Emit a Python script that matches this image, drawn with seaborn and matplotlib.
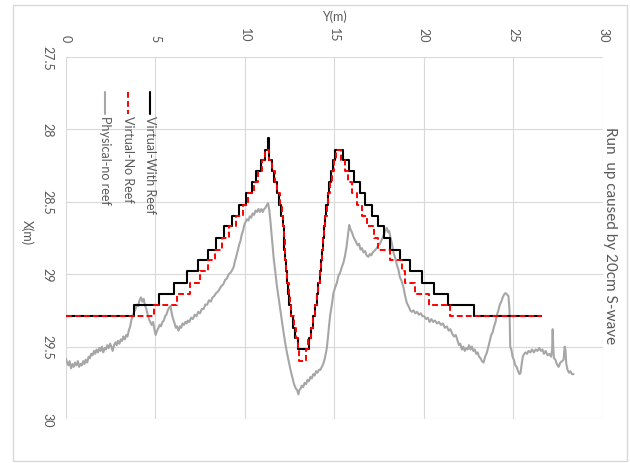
import matplotlib
matplotlib.use("Agg")
import matplotlib.pyplot as plt
from matplotlib.lines import Line2D
from matplotlib.patches import Rectangle
import seaborn as sns

# Virtual - with reef (step start along Y, X level)
vw_y = [0, 3.83, 5.23, 6.07, 6.76, 7.41, 7.95, 8.40, 8.85, 9.30, 9.70, 10.05, 10.40, 10.65,
        10.90, 11.10, 11.27, 11.33, 11.50, 11.65, 11.80, 11.93, 12.03, 12.12, 12.17, 12.21,
        12.25, 12.29, 12.34, 12.41, 12.49, 12.57, 12.67, 12.80, 12.98, 13.58, 13.70, 13.82,
        13.93, 14.02, 14.10, 14.18, 14.25, 14.31, 14.37, 14.43, 14.49, 14.55, 14.63, 14.72,
        14.82, 14.93, 15.05, 15.50, 15.80, 16.10, 16.44, 16.72, 17.10, 17.46, 17.78, 18.12,
        18.68, 19.23, 19.88, 20.54, 21.37, 22.77, 26.55]
vw_x = [29.29, 29.21, 29.14, 29.06, 28.98, 28.905, 28.83, 28.75, 28.67, 28.60, 28.52, 28.44, 28.36, 28.29,
        28.21, 28.14, 28.06, 28.21, 28.29, 28.36, 28.44, 28.52, 28.60, 28.67, 28.75, 28.83,
        28.905, 28.98, 29.06, 29.14, 29.21, 29.29, 29.37, 29.44, 29.52, 29.44, 29.37, 29.29,
        29.21, 29.14, 29.06, 28.98, 28.905, 28.83, 28.75, 28.67, 28.60, 28.52, 28.44, 28.36,
        28.29, 28.21, 28.14, 28.21, 28.29, 28.36, 28.44, 28.52, 28.60, 28.67, 28.75, 28.83,
        28.905, 28.98, 29.06, 29.14, 29.21, 29.29, 29.29]

# Virtual - no reef
nr_y = [0, 4.93, 6.20, 6.94, 7.50, 7.97, 8.34, 8.70, 9.10, 9.50, 9.90, 10.20, 10.50, 10.75,
        10.95, 11.13, 11.35, 11.52, 11.67, 11.82, 11.95, 12.05, 12.13, 12.18, 12.22, 12.26,
        12.30, 12.36, 12.44, 12.52, 12.60, 12.72, 12.86, 12.98, 13.05, 13.43, 13.55, 13.68,
        13.80, 13.92, 14.02, 14.10, 14.18, 14.25, 14.32, 14.38, 14.44, 14.50, 14.57, 14.65,
        14.75, 14.85, 14.98, 15.12, 15.38, 15.58, 15.78, 15.98, 16.26, 16.54, 16.85, 17.20,
        17.45, 18.12, 18.77, 18.96, 19.51, 20.26, 21.47, 26.55]
nr_x = [29.29, 29.21, 29.14, 29.06, 28.98, 28.905, 28.83, 28.75, 28.67, 28.60, 28.52, 28.44, 28.36, 28.29,
        28.21, 28.14, 28.21, 28.29, 28.36, 28.44, 28.52, 28.60, 28.67, 28.75, 28.83, 28.905,
        28.98, 29.06, 29.14, 29.21, 29.29, 29.37, 29.44, 29.52, 29.60, 29.52, 29.44, 29.37,
        29.29, 29.21, 29.14, 29.06, 28.98, 28.905, 28.83, 28.75, 28.67, 28.60, 28.52, 28.44,
        28.36, 28.29, 28.21, 28.14, 28.21, 28.29, 28.36, 28.44, 28.52, 28.60, 28.67, 28.75,
        28.83, 28.905, 28.98, 29.06, 29.14, 29.21, 29.29, 29.29]

pr_y = [0.00, 0.08, 0.15, 0.22, 0.30, 0.38, 0.45, 0.52, 0.60, 0.68, 0.75, 0.83, 0.90, 0.98,
        1.05, 1.12, 1.20, 1.28, 1.35, 1.42, 1.50, 1.58, 1.65, 1.72, 1.80, 1.88, 1.95, 2.02,
        2.10, 2.18, 2.25, 2.32, 2.40, 2.48, 2.55, 2.62, 2.70, 2.78, 2.85, 2.92, 3.00, 3.08,
        3.15, 3.22, 3.30, 3.38, 3.45, 3.52, 3.60, 3.68, 3.75, 3.82, 3.90, 3.97, 4.05, 4.12,
        4.20, 4.28, 4.35, 4.42, 4.50, 4.58, 4.65, 4.72, 4.80, 4.88, 4.95, 5.02, 5.10, 5.18,
        5.25, 5.32, 5.40, 5.48, 5.55, 5.62, 5.70, 5.78, 5.85, 5.92, 6.00, 6.08, 6.15, 6.22,
        6.30, 6.38, 6.45, 6.52, 6.60, 6.68, 6.75, 6.82, 6.90, 7.00, 7.10, 7.20, 7.30, 7.40,
        7.50, 7.60, 7.70, 7.80, 7.90, 8.00, 8.10, 8.20, 8.30, 8.40, 8.50, 8.60, 8.70, 8.80,
        8.90, 9.00, 9.10, 9.20, 9.30, 9.38, 9.45, 9.52, 9.58, 9.64, 9.70, 9.76, 9.82, 9.90,
        9.97, 10.04, 10.12, 10.20, 10.28, 10.36, 10.44, 10.52, 10.60, 10.68, 10.76, 10.84,
        10.92, 11.00, 11.08, 11.16, 11.24, 11.30, 11.36, 11.42, 11.48, 11.55, 11.62, 11.70,
        11.78, 11.86, 11.95, 12.05, 12.15, 12.25, 12.35, 12.45, 12.55, 12.65, 12.75, 12.85,
        12.92, 12.99, 13.05, 13.12, 13.18, 13.26, 13.34, 13.42, 13.50, 13.58, 13.66, 13.74,
        13.82, 13.90, 13.98, 14.06, 14.14, 14.22, 14.30, 14.38, 14.45, 14.52, 14.58, 14.64,
        14.70, 14.77, 14.85, 14.95, 15.05, 15.14, 15.23, 15.32, 15.42, 15.51, 15.60, 15.68,
        15.75, 15.83, 15.90, 15.98, 16.06, 16.14, 16.22, 16.30, 16.38, 16.46, 16.54, 16.63,
        16.72, 16.80, 16.90, 16.98, 17.06, 17.14, 17.22, 17.30, 17.37, 17.45, 17.55, 17.65,
        17.75, 17.85, 17.93, 18.00, 18.06, 18.12, 18.20, 18.30, 18.40, 18.50, 18.58, 18.66,
        18.76, 18.86, 18.95, 19.05, 19.14, 19.24, 19.33, 19.42, 19.52, 19.62, 19.72, 19.82,
        19.92, 20.02, 20.12, 20.22, 20.32, 20.42, 20.52, 20.62, 20.73, 20.84, 20.95, 21.06,
        21.17, 21.28, 21.38, 21.48, 21.58, 21.68, 21.78, 21.88, 21.96, 22.03, 22.12, 22.20,
        22.28, 22.36, 22.44, 22.52, 22.60, 22.68, 22.76, 22.84, 22.92, 23.00, 23.08, 23.16,
        23.24, 23.33, 23.42, 23.52, 23.60, 23.68, 23.76, 23.84, 23.92, 24.00, 24.08, 24.16,
        24.24, 24.32, 24.40, 24.48, 24.56, 24.64, 24.72, 24.78, 24.82, 24.88, 24.95, 25.02,
        25.10, 25.18, 25.26, 25.34, 25.40, 25.46, 25.52, 25.60, 25.68, 25.76, 25.84, 25.94,
        26.04, 26.14, 26.24, 26.34, 26.44, 26.54, 26.62, 26.70, 26.80, 26.90, 27.00, 27.10,
        27.16, 27.19, 27.22, 27.26, 27.34, 27.42, 27.52, 27.62, 27.72, 27.80, 27.86, 27.90,
        27.95, 28.02, 28.10, 28.18, 28.26, 28.36]
pr_x = [29.58, 29.61, 29.63, 29.60, 29.65, 29.62, 29.64, 29.61, 29.63, 29.60, 29.64, 29.62, 29.63, 29.60,
        29.62, 29.59, 29.61, 29.57, 29.58, 29.55, 29.56, 29.53, 29.55, 29.52, 29.54, 29.51, 29.53, 29.50,
        29.54, 29.51, 29.52, 29.49, 29.51, 29.48, 29.50, 29.53, 29.49, 29.47, 29.49, 29.46, 29.48, 29.45,
        29.46, 29.43, 29.45, 29.42, 29.43, 29.39, 29.36, 29.31, 29.29, 29.26, 29.24, 29.21, 29.22, 29.18,
        29.16, 29.19, 29.17, 29.21, 29.24, 29.28, 29.31, 29.33, 29.35, 29.33, 29.38, 29.42, 29.39, 29.37,
        29.35, 29.36, 29.33, 29.32, 29.29, 29.28, 29.25, 29.23, 29.22, 29.27, 29.31, 29.34, 29.37, 29.36,
        29.39, 29.36, 29.37, 29.34, 29.35, 29.33, 29.34, 29.32, 29.33, 29.30, 29.31, 29.28, 29.29, 29.26,
        29.27, 29.24, 29.24, 29.21, 29.21, 29.18, 29.19, 29.16, 29.15, 29.13, 29.12, 29.10, 29.08, 29.07,
        29.04, 29.03, 29.00, 28.99, 28.97, 28.95, 28.91, 28.88, 28.85, 28.82, 28.79, 28.77, 28.73, 28.70,
        28.66, 28.64, 28.62, 28.63, 28.60, 28.61, 28.58, 28.59, 28.56, 28.57, 28.55, 28.57,
        28.55, 28.57, 28.55, 28.54, 28.52, 28.51, 28.55, 28.62, 28.70, 28.80, 28.90, 28.98,
        29.07, 29.14, 29.22, 29.31, 29.39, 29.47, 29.54, 29.60, 29.66, 29.71, 29.76, 29.79,
        29.80, 29.83, 29.80, 29.79, 29.77, 29.78, 29.75, 29.76, 29.73, 29.74, 29.71, 29.72,
        29.69, 29.70, 29.67, 29.68, 29.66, 29.66, 29.64, 29.62, 29.59, 29.55, 29.51, 29.44,
        29.36, 29.28, 29.22, 29.13, 29.09, 29.06, 29.01, 28.99, 28.95, 28.92, 28.87, 28.81,
        28.74, 28.66, 28.69, 28.71, 28.74, 28.76, 28.78, 28.80, 28.79, 28.83, 28.82, 28.85,
        28.84, 28.87, 28.88, 28.86, 28.87, 28.85, 28.84, 28.83, 28.82, 28.80, 28.79, 28.76,
        28.73, 28.70, 28.68, 28.71, 28.70, 28.74, 28.78, 28.85, 28.89, 28.94, 28.97, 29.02,
        29.05, 29.09, 29.15, 29.20, 29.22, 29.25, 29.26, 29.25, 29.27, 29.26, 29.28, 29.27,
        29.29, 29.29, 29.31, 29.30, 29.33, 29.31, 29.33, 29.32, 29.34, 29.33, 29.35, 29.34,
        29.37, 29.36, 29.39, 29.38, 29.41, 29.43, 29.42, 29.46, 29.49, 29.48, 29.52, 29.50,
        29.53, 29.51, 29.52, 29.49, 29.52, 29.50, 29.53, 29.52, 29.55, 29.54, 29.57, 29.58,
        29.60, 29.61, 29.57, 29.54, 29.50, 29.46, 29.42, 29.40, 29.36, 29.33, 29.28, 29.25,
        29.21, 29.19, 29.16, 29.14, 29.13, 29.14, 29.15, 29.25, 29.50, 29.52, 29.57, 29.59,
        29.63, 29.64, 29.67, 29.69, 29.68, 29.62, 29.57, 29.55, 29.54, 29.55, 29.53, 29.54,
        29.52, 29.54, 29.52, 29.53, 29.51, 29.53, 29.52, 29.55, 29.53, 29.56, 29.55, 29.57,
        29.52, 29.38, 29.50, 29.58, 29.59, 29.62, 29.64, 29.61, 29.60, 29.59, 29.50, 29.52,
        29.62, 29.66, 29.68, 29.67, 29.69, 29.69]

y_ticks = [0, 5, 10, 15, 20, 25, 30]
x_ticks = [27.5, 28, 28.5, 29, 29.5, 30]
labels = ["Virtual-With Reef", "Virtual-No Reef", "Physical-no reef"]

sns.set_style("white")
plt.rcParams['font.family'] = ['Lato', 'DejaVu Sans']
txt = '#595959'
grid_c = '#d9d9d9'
red = '#ff0000'
gray = '#a6a6a6'

W, H = 630, 464
fig = plt.figure(figsize=(6.3, 4.64), dpi=100)
ax = fig.add_axes([65.7 / W, 1 - 420 / H, 537.3 / W, 362 / H])

sns.lineplot(x=pr_y, y=pr_x, estimator=None, sort=False, color=gray, lw=1.5, ax=ax)
sns.lineplot(x=vw_y, y=vw_x, estimator=None, sort=False, drawstyle='steps-post',
             color='black', lw=1.5, ax=ax)
sns.lineplot(x=nr_y, y=nr_x, estimator=None, sort=False, drawstyle='steps-post',
             color=red, lw=1.4, linestyle=(0, (3, 1.6)), ax=ax)

ax.set_xlim(0, 30)
ax.set_ylim(30, 27.5)
ax.set_xticks(y_ticks)
ax.set_yticks(x_ticks)
ax.set_xticklabels([str(v) for v in y_ticks])
ax.set_yticklabels([f"{v:g}" for v in x_ticks])
ax.xaxis.tick_top()
ax.tick_params(axis='x', length=0, pad=11, labelsize=9, labelcolor=txt, labelrotation=270)
ax.tick_params(axis='y', length=0, pad=9, labelsize=9, labelcolor=txt, labelrotation=270)
for lab in ax.get_yticklabels():
    lab.set_va('center')
ax.grid(True, color=grid_c, lw=0.8)
for s in ax.spines.values():
    s.set_visible(False)

ax.xaxis.set_label_position('top')
ax.set_xlabel('Y(m)', fontsize=9, color=txt)
ax.xaxis.set_label_coords(0.4994, 1.102)
ax.set_ylabel('X(m)', fontsize=9, color=txt, rotation=270, va='center', ha='center')
ax.yaxis.set_label_coords(-0.072, 0.519)

fig.text(610 / W, 1 - 236 / H, 'Run  up caused by 20cm S-wave', rotation=270,
         ha='center', va='center', fontsize=11, color=txt)

# legend drawn vertically, as in the rotated original
leg_x = [150, 128.3, 105]
leg_styles = [dict(color='black', lw=1.5),
              dict(color=red, lw=1.4, linestyle=(0, (3, 1.6))),
              dict(color=gray, lw=1.5)]
for lx, lab, st in zip(leg_x, labels, leg_styles):
    fig.add_artist(Line2D([lx / W, lx / W], [1 - 93 / H, 1 - 115 / H], **st))
    fig.text(lx / W, 1 - 116 / H, lab, rotation=270, ha='center', va='top',
             fontsize=9, color=txt)

fig.add_artist(Rectangle((13 / W, 1 - 462 / H), 614 / W, 456 / H, fill=False,
                         edgecolor=grid_c, lw=1, transform=fig.transFigure))

plt.savefig('out.png', dpi=100)
